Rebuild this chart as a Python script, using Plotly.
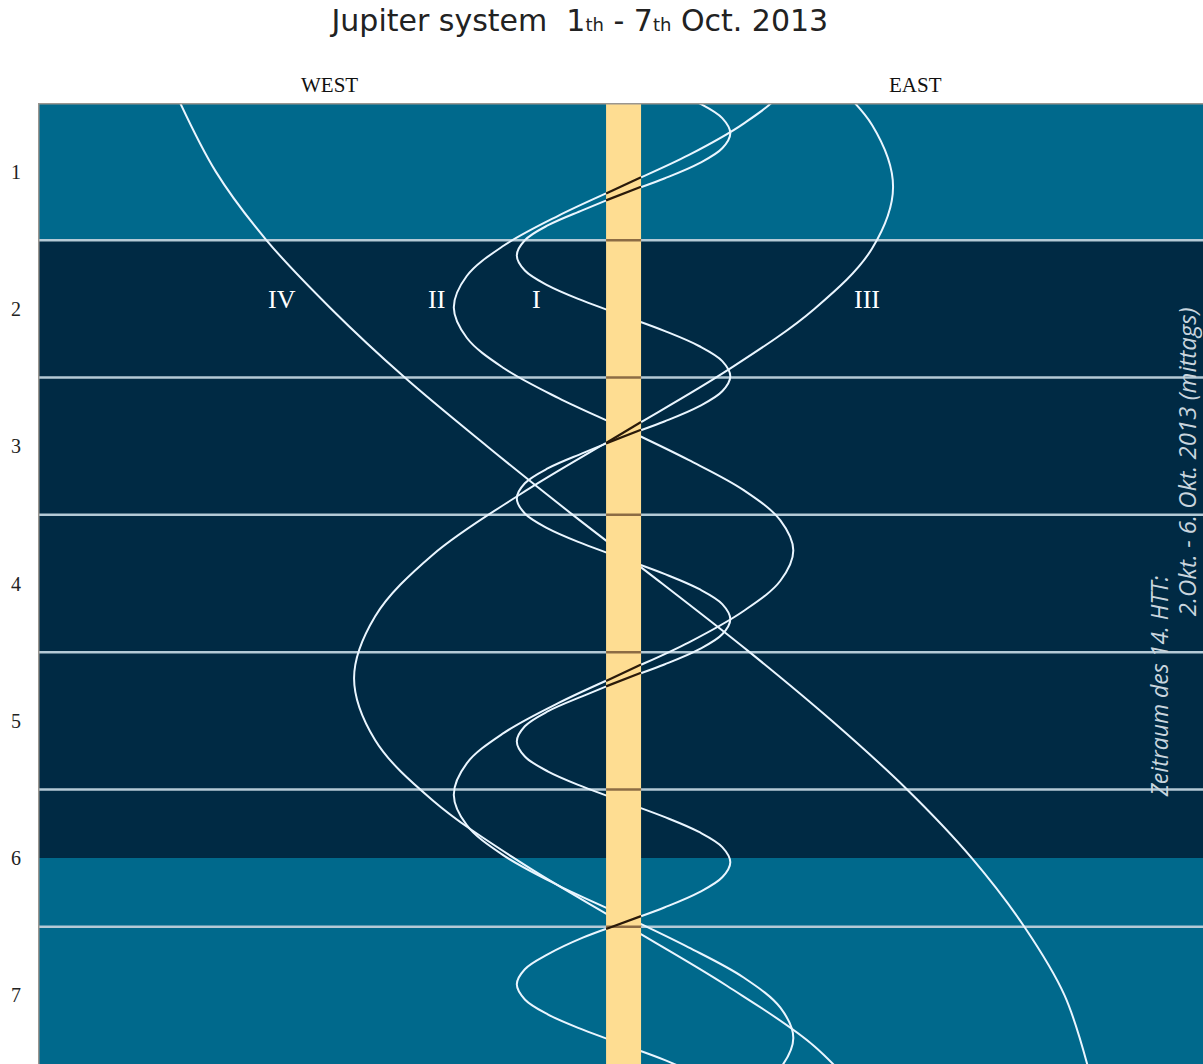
import plotly.graph_objects as go

# Elongation of the Galilean moons (Jupiter radii, + = east) versus date (days of Oct. 2013)
io_day = [0.28, 0.39, 0.50, 0.61, 0.72, 0.83, 0.94, 1.05,
          1.16, 1.28, 1.39, 1.50, 1.61, 1.72, 1.83, 1.94,
          2.05, 2.16, 2.27, 2.38, 2.49, 2.60, 2.71, 2.82,
          2.93, 3.05, 3.16, 3.27, 3.38, 3.49, 3.60, 3.71,
          3.82, 3.93, 4.04, 4.15, 4.26, 4.37, 4.48, 4.59,
          4.70, 4.82, 4.93, 5.04, 5.15, 5.26, 5.37, 5.48,
          5.59, 5.70, 5.81, 5.92, 6.03, 6.14, 6.25, 6.36,
          6.47, 6.58, 6.70, 6.81, 6.92, 7.03, 7.14, 7.25,
          7.36, 7.47, 7.58]
io_x = [0, 2.33, 4.31, 5.64, 6.1, 5.64, 4.31, 2.33,
        0, -2.33, -4.31, -5.64, -6.1, -5.64, -4.31, -2.33,
        0, 2.33, 4.31, 5.64, 6.1, 5.64, 4.31, 2.33,
        0, -2.33, -4.31, -5.64, -6.1, -5.64, -4.31, -2.33,
        0, 2.33, 4.31, 5.64, 6.1, 5.64, 4.31, 2.33,
        0, -2.33, -4.31, -5.64, -6.1, -5.64, -4.31, -2.33,
        0, 2.33, 4.31, 5.64, 6.1, 5.64, 4.31, 2.33,
        0, -2.33, -4.31, -5.64, -6.1, -5.64, -4.31, -2.33,
        0, 2.33, 4.31]

europa_day = [0.21, 0.43, 0.65, 0.88, 1.10, 1.32, 1.54, 1.76,
              1.99, 2.21, 2.43, 2.65, 2.87, 3.10, 3.32, 3.54,
              3.76, 3.98, 4.20, 4.43, 4.65, 4.87, 5.09, 5.31,
              5.54, 5.76, 5.98, 6.20, 6.42, 6.65, 6.87, 7.09,
              7.31, 7.53, 7.76]
europa_x = [9.7, 8.96, 6.86, 3.71, 0, -3.71, -6.86, -8.96,
            -9.7, -8.96, -6.86, -3.71, 0, 3.71, 6.86, 8.96,
            9.7, 8.96, 6.86, 3.71, 0, -3.71, -6.86, -8.96,
            -9.7, -8.96, -6.86, -3.71, 0, 3.71, 6.86, 8.96,
            9.7, 8.96, 6.86]

ganymede_day = [0.22, 0.66, 1.11, 1.56, 2.00, 2.45, 2.90, 3.35, 3.79,
                4.24, 4.69, 5.14, 5.58, 6.03, 6.48, 6.93, 7.37, 7.82]
ganymede_x = [10.9, 14.2, 15.4, 14.2, 10.9, 5.9, 0, -5.9, -10.9,
              -14.2, -15.4, -14.2, -10.9, -5.9, 0, 5.9, 10.9, 14.2]

callisto_day = [0.4, 1.0, 1.5, 2.0, 2.5, 3.0, 3.5, 4.0,
                4.5, 5.0, 5.5, 6.0, 6.5, 7.0, 7.6]
callisto_x = [-25.7, -23.3, -20.4, -16.7, -12.5, -7.8, -2.9, 2.2,
              7.2, 11.9, 16.2, 19.9, 22.9, 25.2, 26.7]

moon_labels = ["IV", "II", "I", "III"]
moon_label_x = [-19.5, -10.7, -5.0, 13.9]
moon_label_day = 1.93

day_ticks = [1, 2, 3, 4, 5, 6, 7]
day_lines = [1.5, 2.5, 3.5, 4.5, 5.5, 6.5]
htt_start, htt_end = 1.5, 6.0      # observing period of the 14th HTT

day_min, day_max = 0.5, 7.5
x_min, x_max = -33.46, 33.11
jupiter_r = 1.0

C_LIGHT = "#00698c"
C_DARK = "#002a44"
C_GRID = "#b4cad6"
C_JUP = "#fedd92"
C_MOON = "#eaf6ff"
C_TRANSIT = "#2a1a0a"
C_NOTE = "#c9d5de"

fig = go.Figure()

# background day bands and grid lines
shapes = [
    dict(type="rect", xref="x", yref="y", x0=x_min, x1=x_max, y0=day_min, y1=htt_start,
         fillcolor=C_LIGHT, line_width=0, layer="below"),
    dict(type="rect", xref="x", yref="y", x0=x_min, x1=x_max, y0=htt_start, y1=htt_end,
         fillcolor=C_DARK, line_width=0, layer="below"),
    dict(type="rect", xref="x", yref="y", x0=x_min, x1=x_max, y0=htt_end, y1=day_max,
         fillcolor=C_LIGHT, line_width=0, layer="below"),
]
for d in day_lines:
    shapes.append(dict(type="line", xref="x", yref="y", x0=x_min, x1=x_max, y0=d, y1=d,
                       line=dict(color=C_GRID, width=2.5), layer="below"))
shapes.append(dict(type="line", xref="x", yref="y", x0=x_min, x1=x_max, y0=day_min, y1=day_min,
                   line=dict(color="#9a9690", width=3), layer="above"))
shapes.append(dict(type="line", xref="x", yref="y", x0=x_min, x1=x_min, y0=day_min, y1=day_max,
                   line=dict(color="#9a9690", width=3), layer="above"))

moons = [(io_x, io_day), (europa_x, europa_day), (ganymede_x, ganymede_day),
         (callisto_x, callisto_day)]

for mx, md in moons:
    fig.add_trace(go.Scatter(x=mx, y=md, mode="lines",
                             line=dict(color=C_MOON, width=2, shape="spline", smoothing=1.0),
                             hoverinfo="skip", showlegend=False))

# Jupiter's disk (hides moons passing behind it)
fig.add_trace(go.Scatter(x=[-jupiter_r, jupiter_r, jupiter_r, -jupiter_r, -jupiter_r],
                         y=[day_min, day_min, day_max, day_max, day_min],
                         mode="lines", fill="toself", fillcolor=C_JUP,
                         line=dict(width=0, color=C_JUP), hoverinfo="skip", showlegend=False))

# grid lines across the disk
gx, gy = [], []
for d in day_lines:
    gx += [-jupiter_r, jupiter_r, None]
    gy += [d, d, None]
fig.add_trace(go.Scatter(x=gx, y=gy, mode="lines", line=dict(color="#8c6c44", width=2.5),
                         hoverinfo="skip", showlegend=False))

# transits: westward crossings in front of the disk
tx, ty = [], []
for mx, md in moons:
    for i in range(1, len(mx) - 1):
        if mx[i] == 0 and mx[i - 1] > 0 and mx[i + 1] < 0:
            slope = (mx[i - 1] - mx[i + 1]) / (md[i + 1] - md[i - 1])
            half = jupiter_r / slope
            tx += [jupiter_r, -jupiter_r, None]
            ty += [md[i] - half, md[i] + half, None]
fig.add_trace(go.Scatter(x=tx, y=ty, mode="lines", line=dict(color=C_TRANSIT, width=2.2),
                         hoverinfo="skip", showlegend=False))

annotations = []
for lab, lx in zip(moon_labels, moon_label_x):
    annotations.append(dict(x=lx, y=moon_label_day, xref="x", yref="y", text=lab,
                            showarrow=False, xanchor="center", yanchor="middle",
                            font=dict(family="Liberation Serif", size=26, color="#ffffff")))

annotations += [
    dict(x=0.2506, y=1.0187, xref="paper", yref="paper", text="WEST", showarrow=False,
         xanchor="center", yanchor="middle",
         font=dict(family="Liberation Serif", size=21, color="#111111")),
    dict(x=0.753, y=1.0187, xref="paper", yref="paper", text="EAST", showarrow=False,
         xanchor="center", yanchor="middle",
         font=dict(family="Liberation Serif", size=21, color="#111111")),
    dict(x=0.963, y=4.75, xref="paper", yref="y", text="<i>Zeitraum des 14. HTT:</i>",
         textangle=-90, showarrow=False, xanchor="center", yanchor="middle",
         font=dict(family="Open Sans", size=23, color=C_NOTE)),
    dict(x=0.9854, y=3.11, xref="paper", yref="y", text="<i>2.Okt. - 6. Okt. 2013 (mittags)</i>",
         textangle=-90, showarrow=False, xanchor="center", yanchor="middle",
         font=dict(family="Open Sans", size=24, color=C_NOTE)),
]

fig.update_layout(
    width=1203, height=1064,
    margin=dict(l=38, r=0, t=103, b=0),
    paper_bgcolor="#ffffff", plot_bgcolor=C_DARK,
    shapes=shapes, annotations=annotations,
    title=dict(text='Jupiter system  1<span style="font-size:18px">th</span> - '
                    '7<span style="font-size:18px">th</span> Oct. 2013',
               x=0.482, y=0.981, xanchor="center", yanchor="middle",
               font=dict(family="DejaVu Sans", size=30, color="#222222")),
    xaxis=dict(range=[x_min, x_max], showgrid=False, zeroline=False, showticklabels=False,
               ticks=""),
    yaxis=dict(range=[day_max, day_min], showgrid=False, zeroline=False,
               tickvals=day_ticks, ticktext=[str(t) for t in day_ticks], ticks="",
               ticklabelstandoff=16,
               tickfont=dict(family="Liberation Serif", size=20, color="#222222")),
)

fig.write_html("out.html")
